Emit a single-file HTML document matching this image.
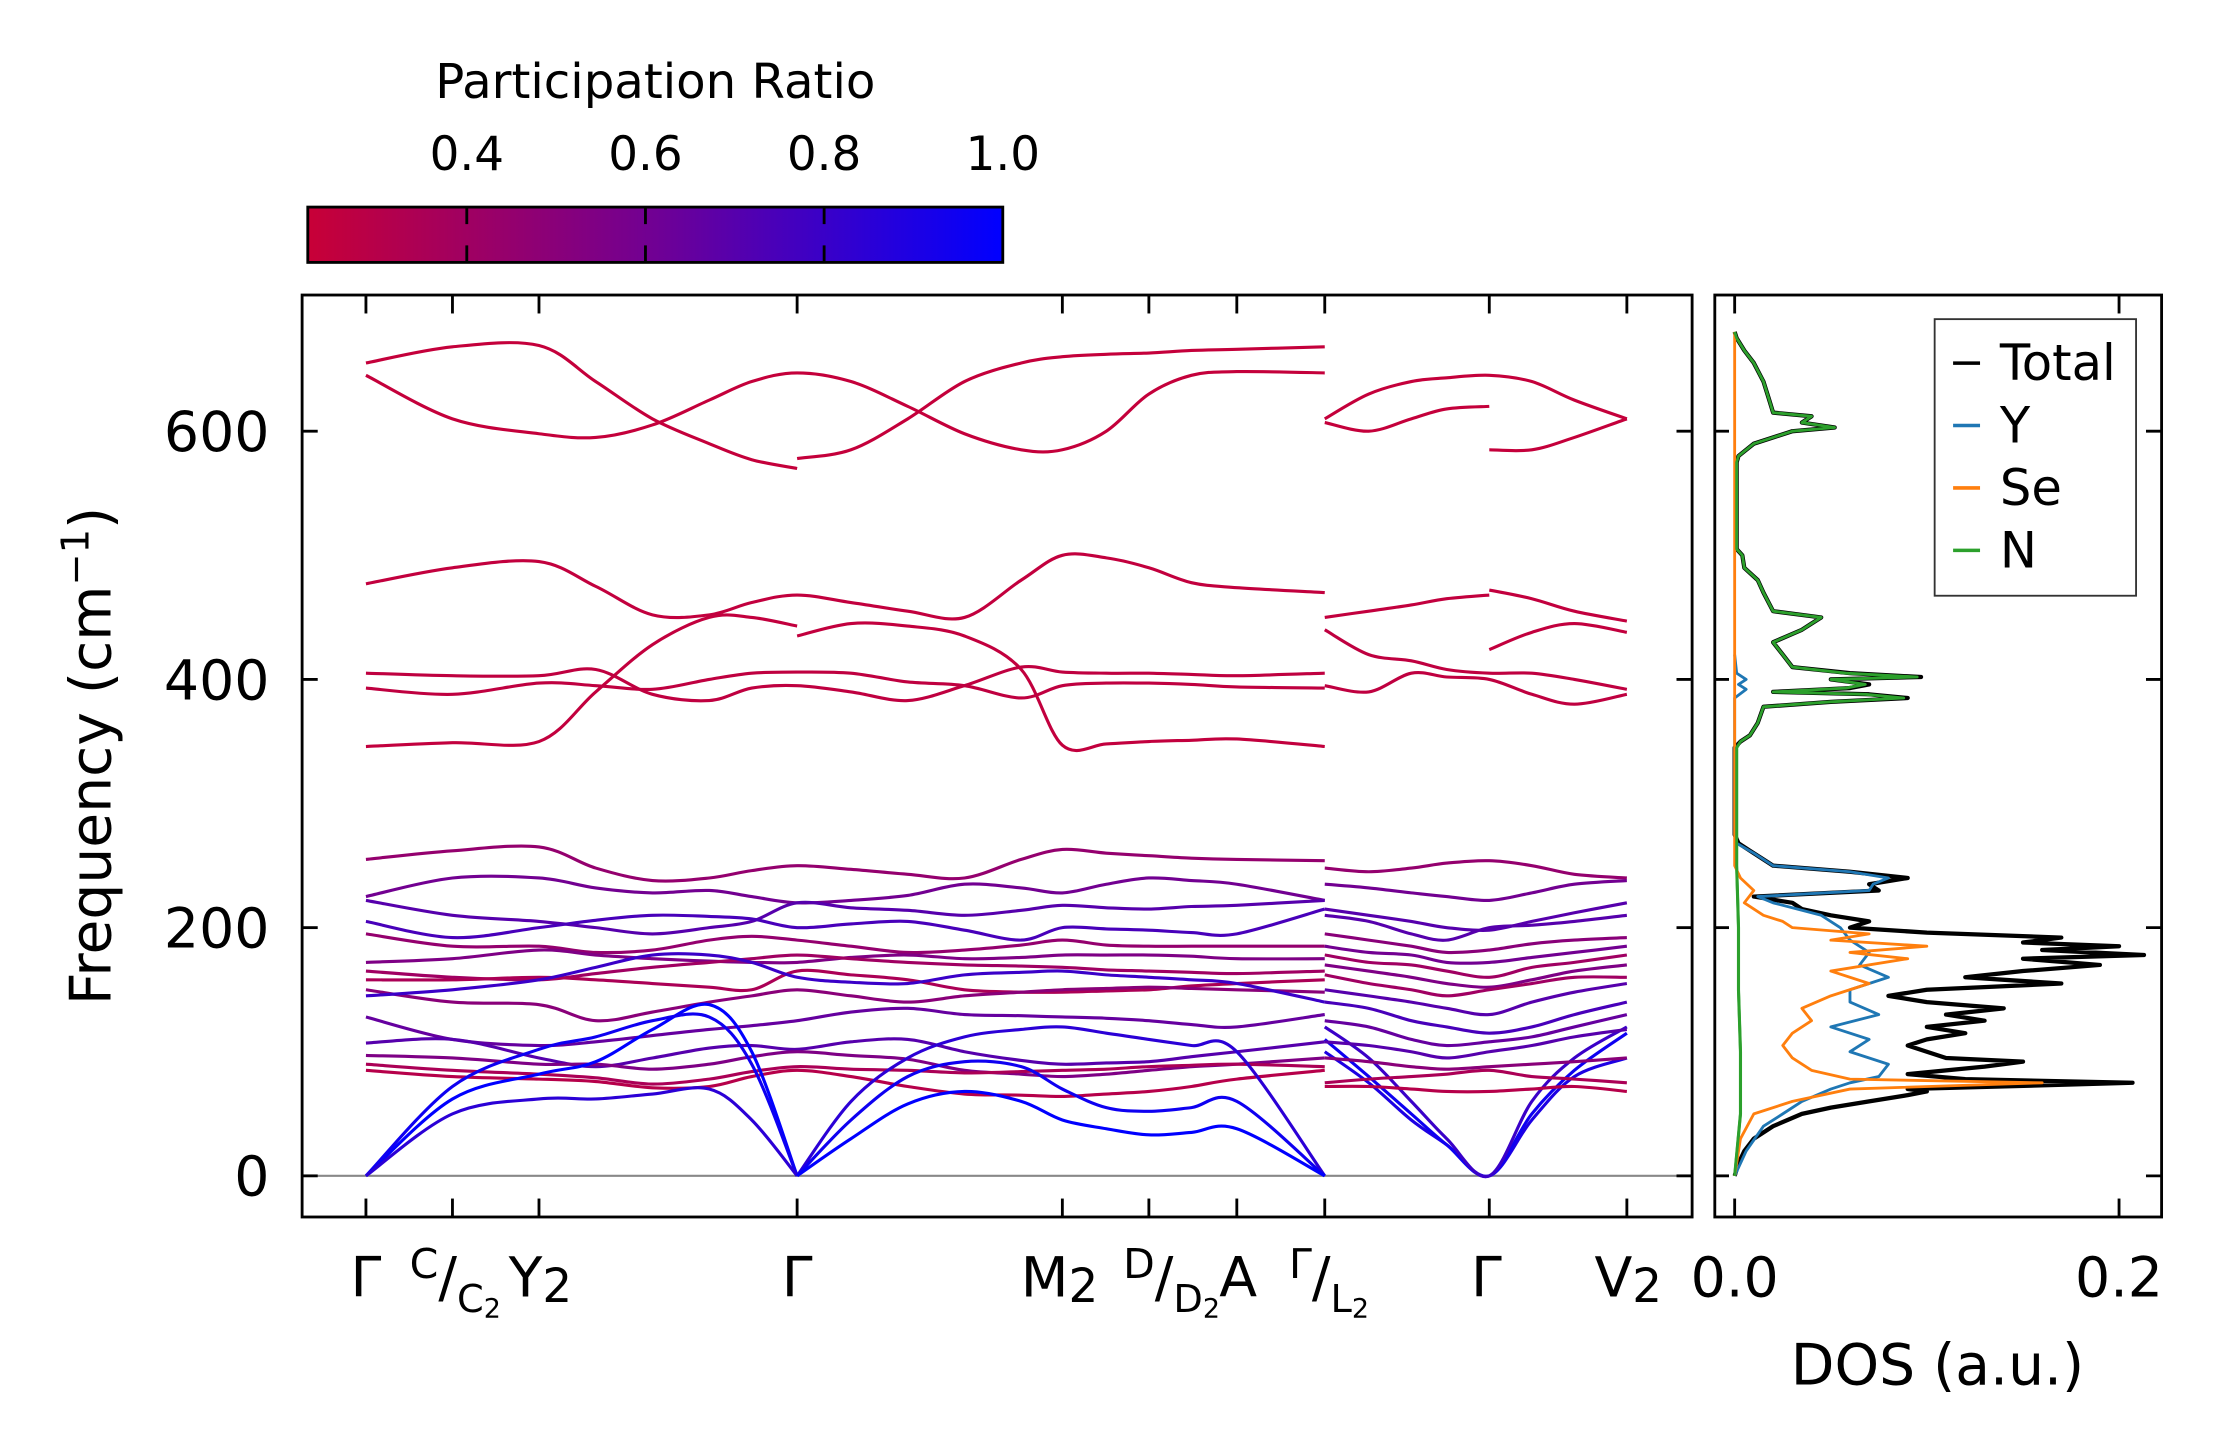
<!DOCTYPE html>
<html><head><meta charset="utf-8"><style>
html,body{margin:0;padding:0;background:#fff;}
svg{display:block;font-family:"DejaVu Sans","Liberation Sans",sans-serif;}
</style></head><body>
<svg id="fig" width="2224" height="1455" viewBox="0 0 1568 1025.8" preserveAspectRatio="none" xmlns="http://www.w3.org/2000/svg">
<defs>
<linearGradient id="cmap" x1="0" x2="1" y1="0" y2="0">
<stop offset="0" stop-color="rgb(200,0,55)"/>
<stop offset="0.5" stop-color="rgb(112,0,148)"/>
<stop offset="1" stop-color="rgb(0,0,255)"/>
</linearGradient>
<clipPath id="mainClip"><rect x="213" y="208" width="980" height="650"/></clipPath>
<clipPath id="dosClip"><rect x="1209" y="208" width="315" height="650"/></clipPath>
</defs>
<g>
<text x="462" y="69" font-size="34" text-anchor="middle">Participation Ratio</text>
<rect x="217" y="146" width="490" height="39" fill="url(#cmap)" stroke="#000" stroke-width="2"/>
<g id="cbTicks"></g>
</g>
<g>
<line x1="213" x2="1193" y1="829" y2="829" stroke="#888" stroke-width="1.5"/>
<g id="bands" clip-path="url(#mainClip)"></g>
<rect x="213" y="208" width="980" height="650" fill="none" stroke="#000" stroke-width="2"/>
<g id="mainTicks"></g>
<text transform="translate(78,533) rotate(-90)" font-size="40" text-anchor="middle">Frequency (cm<tspan baseline-shift="super" font-size="27">−1</tspan>)</text>
<g font-size="39" text-anchor="middle">
<text x="258" y="914">Γ</text>
<text x="321" y="914"><tspan font-size="29" dy="-13">C</tspan><tspan dy="13">/</tspan><tspan font-size="27" dy="11">C</tspan><tspan font-size="19" dy="4">2</tspan></text>
<text x="381" y="914">Y<tspan font-size="33" dy="4">2</tspan></text>
<text x="562" y="914">Γ</text>
<text x="747" y="914">M<tspan font-size="33" dy="4">2</tspan></text>
<text x="826" y="914"><tspan font-size="29" dy="-13">D</tspan><tspan dy="13">/</tspan><tspan font-size="27" dy="11">D</tspan><tspan font-size="19" dy="4">2</tspan></text>
<text x="873" y="914">A</text>
<text x="937" y="914"><tspan font-size="29" dy="-13">Γ</tspan><tspan dy="13">/</tspan><tspan font-size="27" dy="11">L</tspan><tspan font-size="19" dy="4">2</tspan></text>
<text x="1048" y="914">Γ</text>
<text x="1148" y="914">V<tspan font-size="33" dy="4">2</tspan></text>
</g>
</g>
<g>
<g id="dos" clip-path="url(#dosClip)"></g>
<rect x="1209" y="208" width="315" height="650" fill="none" stroke="#000" stroke-width="2"/>
<g id="dosTicks"></g>
<text x="1366" y="976" font-size="40" text-anchor="middle">DOS (a.u.)</text>
<g>
<rect x="1364" y="225" width="142" height="195" fill="#fff" stroke="#333" stroke-width="1.3"/>
<g id="legendEntries" font-size="35"></g>
</g>
</g>
</svg>
<script>
// ---- colorbar data
const cbTickValues=[0.4,0.6,0.8,1.0];
const cbTickLabels=["0.4","0.6","0.8","1.0"];
const cbMin=0.222, cbMax=1.0;
// ---- band structure axes data
const freqTicks=[0,200,400,600];
const freqTickLabels=["0","200","400","600"];
const kTicks=[0,0.61,1.22,3.04,4.91,5.52,6.14,6.76,7.92,8.89];
const dosTicks=[0,0.2];
const dosTickLabels=["0.0","0.2"];
// ---- k grids (path coordinate)
const g1=[0,0.61,1.22,1.62,2.02,2.42,2.72,3.04];
const g2=[3.04,3.42,3.82,4.22,4.62,4.91,5.22,5.52,5.82,6.14,6.76];
const gA=[0,0.61,1.22,1.62,2.02,2.42,2.72,3.04,3.42,3.82,4.22,4.62,4.91,5.22,5.52,5.82,6.14,6.76];
const g3=[6.76,7.07,7.37,7.62,7.92,8.22,8.52,8.89];
const g3a=[6.76,7.07,7.37,7.62,7.92];
const g3b=[7.92,8.22,8.52,8.89];
// ---- bands: grid, participation ratio, frequencies
const bandGrid=[], bandPR=[], bandF=[];
function B(g,p,f){bandGrid.push(g);bandPR.push(p);bandF.push(f);}
B(g1,0.24,[655,668,669,640,610,590,577,570]);
B(g2,0.24,[578,585,610,640,655,660,662,663,665,666,668]);
B(gA,0.24,[645,610,598,595,605,625,640,647,640,620,598,585,585,600,630,645,648,647]);
B(gA,0.25,[477,490,495,475,452,452,462,468,462,455,450,480,500,498,490,478,474,470]);
B(g1,0.25,[346,349,350,390,428,450,450,443]);
B(g2,0.25,[435,445,443,435,408,347,348,350,351,352,346]);
B(gA,0.26,[405,403,403,408,388,383,393,395,390,383,395,410,406,405,405,404,403,405]);
B(gA,0.26,[393,388,397,395,392,400,405,406,405,398,395,385,395,397,397,396,394,393]);
B(g3,0.24,[610,630,640,643,645,640,625,610]);
B(g3a,0.24,[607,600,610,618,620]);
B(g3b,0.24,[585,585,595,610]);
B(g3a,0.25,[450,455,460,465,468]);
B(g3b,0.25,[472,465,455,447]);
B(g3,0.26,[440,420,415,408,405,405,400,392]);
B(g3,0.26,[395,390,405,402,400,388,380,388]);
B(g3b,0.25,[424,438,445,438]);
B(gA,0.45,[255,262,265,248,238,240,246,250,247,243,240,255,263,260,258,256,255,254]);
B(gA,0.6,[225,240,240,232,228,230,225,220,222,226,235,232,228,235,240,238,235,222]);
B(gA,0.7,[222,210,205,200,195,200,205,220,216,214,210,214,218,216,215,217,218,222]);
B(gA,0.75,[205,192,200,206,210,209,207,200,203,205,198,190,200,199,198,196,195,215]);
B(gA,0.45,[195,185,185,180,182,190,193,190,185,180,182,186,190,186,185,185,185,185]);
B(gA,0.55,[172,175,182,178,175,173,172,172,176,178,175,176,178,178,178,177,175,175]);
B(gA,0.4,[165,160,158,163,168,172,175,178,175,172,170,169,168,166,165,164,163,165]);
B(gA,0.35,[158,158,160,158,155,152,150,165,162,158,150,148,148,149,150,153,155,158]);
B(gA,0.5,[150,140,138,125,132,140,145,150,145,140,145,148,150,151,152,151,150,148]);
B(gA,0.8,[145,150,158,168,178,178,172,160,156,155,162,164,165,162,160,158,155,140]);
B(gA,0.65,[128,110,105,108,113,118,121,125,132,135,130,129,128,127,125,122,120,130]);
B(gA,0.7,[107,110,95,88,95,103,105,102,108,110,100,93,90,91,92,96,100,108]);
B(gA,0.55,[97,95,90,90,86,90,96,100,97,94,85,82,80,82,85,88,90,95]);
B(gA,0.35,[90,85,82,79,74,78,84,88,86,85,83,84,85,86,88,89,90,88]);
B(gA,0.3,[85,80,78,76,71,72,80,85,80,72,66,65,64,66,68,72,78,85]);
B(g1,1.0,[0,62,82,92,118,138,100,0]);
B(g1,0.95,[0,72,102,112,125,128,90,0]);
B(g1,0.85,[0,50,62,62,66,70,45,0]);
B(g2,0.85,[0,60,95,112,118,120,115,110,105,100,0]);
B(g2,0.95,[0,45,80,92,88,70,55,52,55,60,0]);
B(g2,1.0,[0,30,58,68,60,45,38,33,35,38,0]);
B(g3,0.9,[100,75,45,25,0,45,80,95]);
B(g3,0.95,[110,80,50,25,0,50,85,115]);
B(g3,0.8,[120,95,60,30,0,60,95,120]);
B(g3,0.45,[248,245,248,252,254,250,243,240]);
B(g3,0.6,[235,232,228,225,222,228,235,238]);
B(g3,0.7,[215,210,205,200,198,205,212,220]);
B(g3,0.7,[210,205,195,190,200,202,205,210]);
B(g3,0.5,[195,190,185,180,182,187,190,192]);
B(g3,0.6,[185,180,178,172,172,176,180,185]);
B(g3,0.4,[178,172,170,165,160,168,172,178]);
B(g3,0.55,[170,165,160,155,152,158,165,170]);
B(g3,0.4,[162,155,150,145,150,155,160,160]);
B(g3,0.7,[150,145,140,135,130,140,148,155]);
B(g3,0.75,[140,135,125,120,115,120,130,140]);
B(g3,0.65,[125,120,110,105,108,112,120,130]);
B(g3,0.7,[108,105,100,95,100,105,112,118]);
B(g3,0.5,[95,92,88,86,88,90,92,95]);
B(g3,0.35,[75,78,80,82,85,80,78,75]);
B(g3,0.3,[72,72,70,68,68,70,72,68]);
// ---- DOS data (frequency, density)
const totalF=[0,10,20,30,40,50,55,60,65,68,70,75,78,82,88,92,95,100,105,110,115,120,125,130,135,140,145,150,155,160,165,170,175,178,182,185,188,192,196,200,205,210,215,220,225,230,235,240,245,250,255,262,268,275,345,350,355,365,378,382,385,388,390,393,396,400,402,405,410,420,430,440,445,450,455,470,480,490,500,505,575,580,590,595,600,603,607,612,615,625,640,655,665,675,680];
const totalD=[0,0.002,0.005,0.01,0.02,0.035,0.05,0.07,0.09,0.1,0.09,0.207,0.12,0.09,0.13,0.15,0.11,0.1,0.09,0.1,0.12,0.1,0.13,0.11,0.14,0.1,0.08,0.1,0.17,0.12,0.15,0.19,0.15,0.213,0.16,0.2,0.15,0.17,0.1,0.06,0.07,0.05,0.035,0.03,0.01,0.075,0.07,0.09,0.06,0.02,0.015,0.008,0.002,0,0,0.003,0.008,0.012,0.015,0.05,0.09,0.07,0.02,0.06,0.07,0.05,0.097,0.06,0.03,0.025,0.02,0.035,0.04,0.045,0.02,0.015,0.012,0.005,0.004,0.001,0.001,0.002,0.01,0.02,0.03,0.052,0.035,0.04,0.02,0.018,0.015,0.01,0.005,0.001,0];
const yF=[0,20,40,50,60,70,75,80,90,100,110,120,130,140,150,160,170,180,190,200,210,220,225,230,235,240,245,250,260,268,275,385,392,396,400,405,420];
const yD=[0,0.006,0.015,0.025,0.035,0.05,0.06,0.075,0.08,0.06,0.07,0.05,0.075,0.06,0.06,0.08,0.065,0.07,0.06,0.055,0.045,0.02,0.012,0.07,0.072,0.08,0.06,0.02,0.01,0.001,0,0,0.006,0.002,0.006,0.001,0];
const seF=[0,30,50,60,70,75,78,85,95,105,115,125,135,145,155,165,175,180,185,190,195,200,205,210,220,230,240,250,680];
const seD=[0,0.003,0.01,0.03,0.06,0.16,0.06,0.04,0.03,0.025,0.03,0.04,0.035,0.05,0.07,0.05,0.09,0.06,0.1,0.05,0.07,0.03,0.025,0.015,0.005,0.01,0.003,0,0];
const nF=[0,50,100,150,200,250,345,350,355,365,378,382,385,388,390,393,396,400,402,405,410,420,430,440,445,450,455,470,480,490,500,505,575,580,590,595,600,603,607,612,615,625,640,655,665,675,680];
const nD=[0,0.003,0.003,0.002,0.002,0.001,0.001,0.003,0.008,0.012,0.015,0.05,0.088,0.068,0.02,0.058,0.068,0.05,0.095,0.058,0.03,0.025,0.02,0.035,0.04,0.045,0.02,0.015,0.012,0.005,0.004,0.001,0.001,0.002,0.01,0.02,0.03,0.052,0.035,0.04,0.02,0.018,0.015,0.01,0.005,0.001,0];

const NS="http://www.w3.org/2000/svg";
function yScale(f){return 829-f*0.875;}
function xScale(k){return 258+k*100;}
function dosX(d){return 1223+d*1355;}
function cbX(v){return 217+(v-cbMin)/(cbMax-cbMin)*490;}
function color(pr){
  let t=Math.max(0,Math.min(1,(pr-cbMin)/(cbMax-cbMin)));
  let a,b,u;
  if(t<0.5){a=[200,0,55];b=[112,0,148];u=t/0.5;}else{a=[112,0,148];b=[0,0,255];u=(t-0.5)/0.5;}
  return "rgb("+a.map((c,i)=>Math.round(c+(b[i]-c)*u)).join(",")+")";
}
function smooth(pts){
  let d="M"+pts[0][0].toFixed(1)+","+pts[0][1].toFixed(1);
  for(let i=0;i<pts.length-1;i++){
    const p0=pts[Math.max(0,i-1)],p1=pts[i],p2=pts[i+1],p3=pts[Math.min(pts.length-1,i+2)];
    const c1=[p1[0]+(p2[0]-p0[0])/6,p1[1]+(p2[1]-p0[1])/6];
    const c2=[p2[0]-(p3[0]-p1[0])/6,p2[1]-(p3[1]-p1[1])/6];
    d+="C"+c1[0].toFixed(1)+","+c1[1].toFixed(1)+" "+c2[0].toFixed(1)+","+c2[1].toFixed(1)+" "+p2[0].toFixed(1)+","+p2[1].toFixed(1);
  }
  return d;
}
function mk(tag,attrs,parent){const e=document.createElementNS(NS,tag);for(const k in attrs)e.setAttribute(k,attrs[k]);parent.appendChild(e);return e;}

// colorbar ticks
const cbT=document.getElementById("cbTicks");
cbTickValues.forEach((v,i)=>{
  const x=cbX(v);
  if(v<cbMax){
    const l1=mk("line",{x1:x,x2:x,y1:146,y2:158,stroke:"#000","stroke-width":2},cbT);
    
    
    const l2=mk("line",{x1:x,x2:x,y1:173,y2:185,stroke:"#000","stroke-width":2},cbT);
    
    
  }
  const t=mk("text",{x:x,y:120,"font-size":33,"text-anchor":"middle"},cbT);
  t.textContent=cbTickLabels[i];
  
  
});

// bands
const bg=document.getElementById("bands");
bandF.forEach((f,i)=>{
  const pts=f.map((v,j)=>[xScale(bandGrid[i][j]),yScale(v)]);
  const p=mk("path",{d:smooth(pts),fill:"none",stroke:color(bandPR[i]),"stroke-width":2.2},bg);
  
  
});

// main ticks
const mt=document.getElementById("mainTicks");
freqTicks.forEach((v,i)=>{
  const y=yScale(v);
  const a=mk("line",{x1:213,x2:224,y1:y,y2:y,stroke:"#000","stroke-width":2},mt);
  
  
  const b=mk("line",{x1:1182,x2:1193,y1:y,y2:y,stroke:"#000","stroke-width":2},mt);
  
  
  const t=mk("text",{x:190,y:y+14,"font-size":39,"text-anchor":"end"},mt);
  t.textContent=freqTickLabels[i];
  
  
});
kTicks.forEach(k=>{
  const x=xScale(k);
  const a=mk("line",{x1:x,x2:x,y1:208,y2:221,stroke:"#000","stroke-width":2},mt);
  
  
  const b=mk("line",{x1:x,x2:x,y1:845,y2:858,stroke:"#000","stroke-width":2},mt);
  
  
});

// DOS
const dg=document.getElementById("dos");
const series=[[nF,nD,"#2ca02c",2.2,"dos-n"],[totalF,totalD,"#000",3,"dos-total"],[yF,yD,"#1f77b4",2,"dos-y"],[seF,seD,"#ff7f0e",2,"dos-se"],[nF,nD,"#2ca02c",2,"dos-n"]];
series.forEach(s=>{
  const d=s[0].map((f,j)=>(j?"L":"M")+dosX(s[1][j]).toFixed(1)+","+yScale(f).toFixed(1)).join("");
  const p=mk("path",{d:d,fill:"none",stroke:s[2],"stroke-width":s[3],"stroke-linejoin":"round"},dg);
  
  
});
const dt=document.getElementById("dosTicks");
freqTicks.forEach(v=>{
  const y=yScale(v);
  const a=mk("line",{x1:1209,x2:1219,y1:y,y2:y,stroke:"#000","stroke-width":2},dt);
  
  
  const b=mk("line",{x1:1513,x2:1524,y1:y,y2:y,stroke:"#000","stroke-width":2},dt);
  
  
});
dosTicks.forEach((v,i)=>{
  const x=dosX(v);
  const a=mk("line",{x1:x,x2:x,y1:208,y2:221,stroke:"#000","stroke-width":2},dt);
  
  
  const b=mk("line",{x1:x,x2:x,y1:845,y2:858,stroke:"#000","stroke-width":2},dt);
  
  
  const t=mk("text",{x:x,y:914,"font-size":39,"text-anchor":"middle"},dt);
  t.textContent=dosTickLabels[i];
  
  
});

// legend
const legendLabels=["Total","Y","Se","N"];
const legendColors=["#000","#1f77b4","#ff7f0e","#2ca02c"];
const lg=document.getElementById("legendEntries");
legendLabels.forEach((lab,i)=>{
  const y=256+i*44;
  const l=mk("line",{x1:1377,x2:1396,y1:y,y2:y,stroke:legendColors[i],"stroke-width":2.5},lg);
  
  
  const t=mk("text",{x:1410,y:y+12},lg);
  t.textContent=lab;
  
  
});
</script>
</body></html>
